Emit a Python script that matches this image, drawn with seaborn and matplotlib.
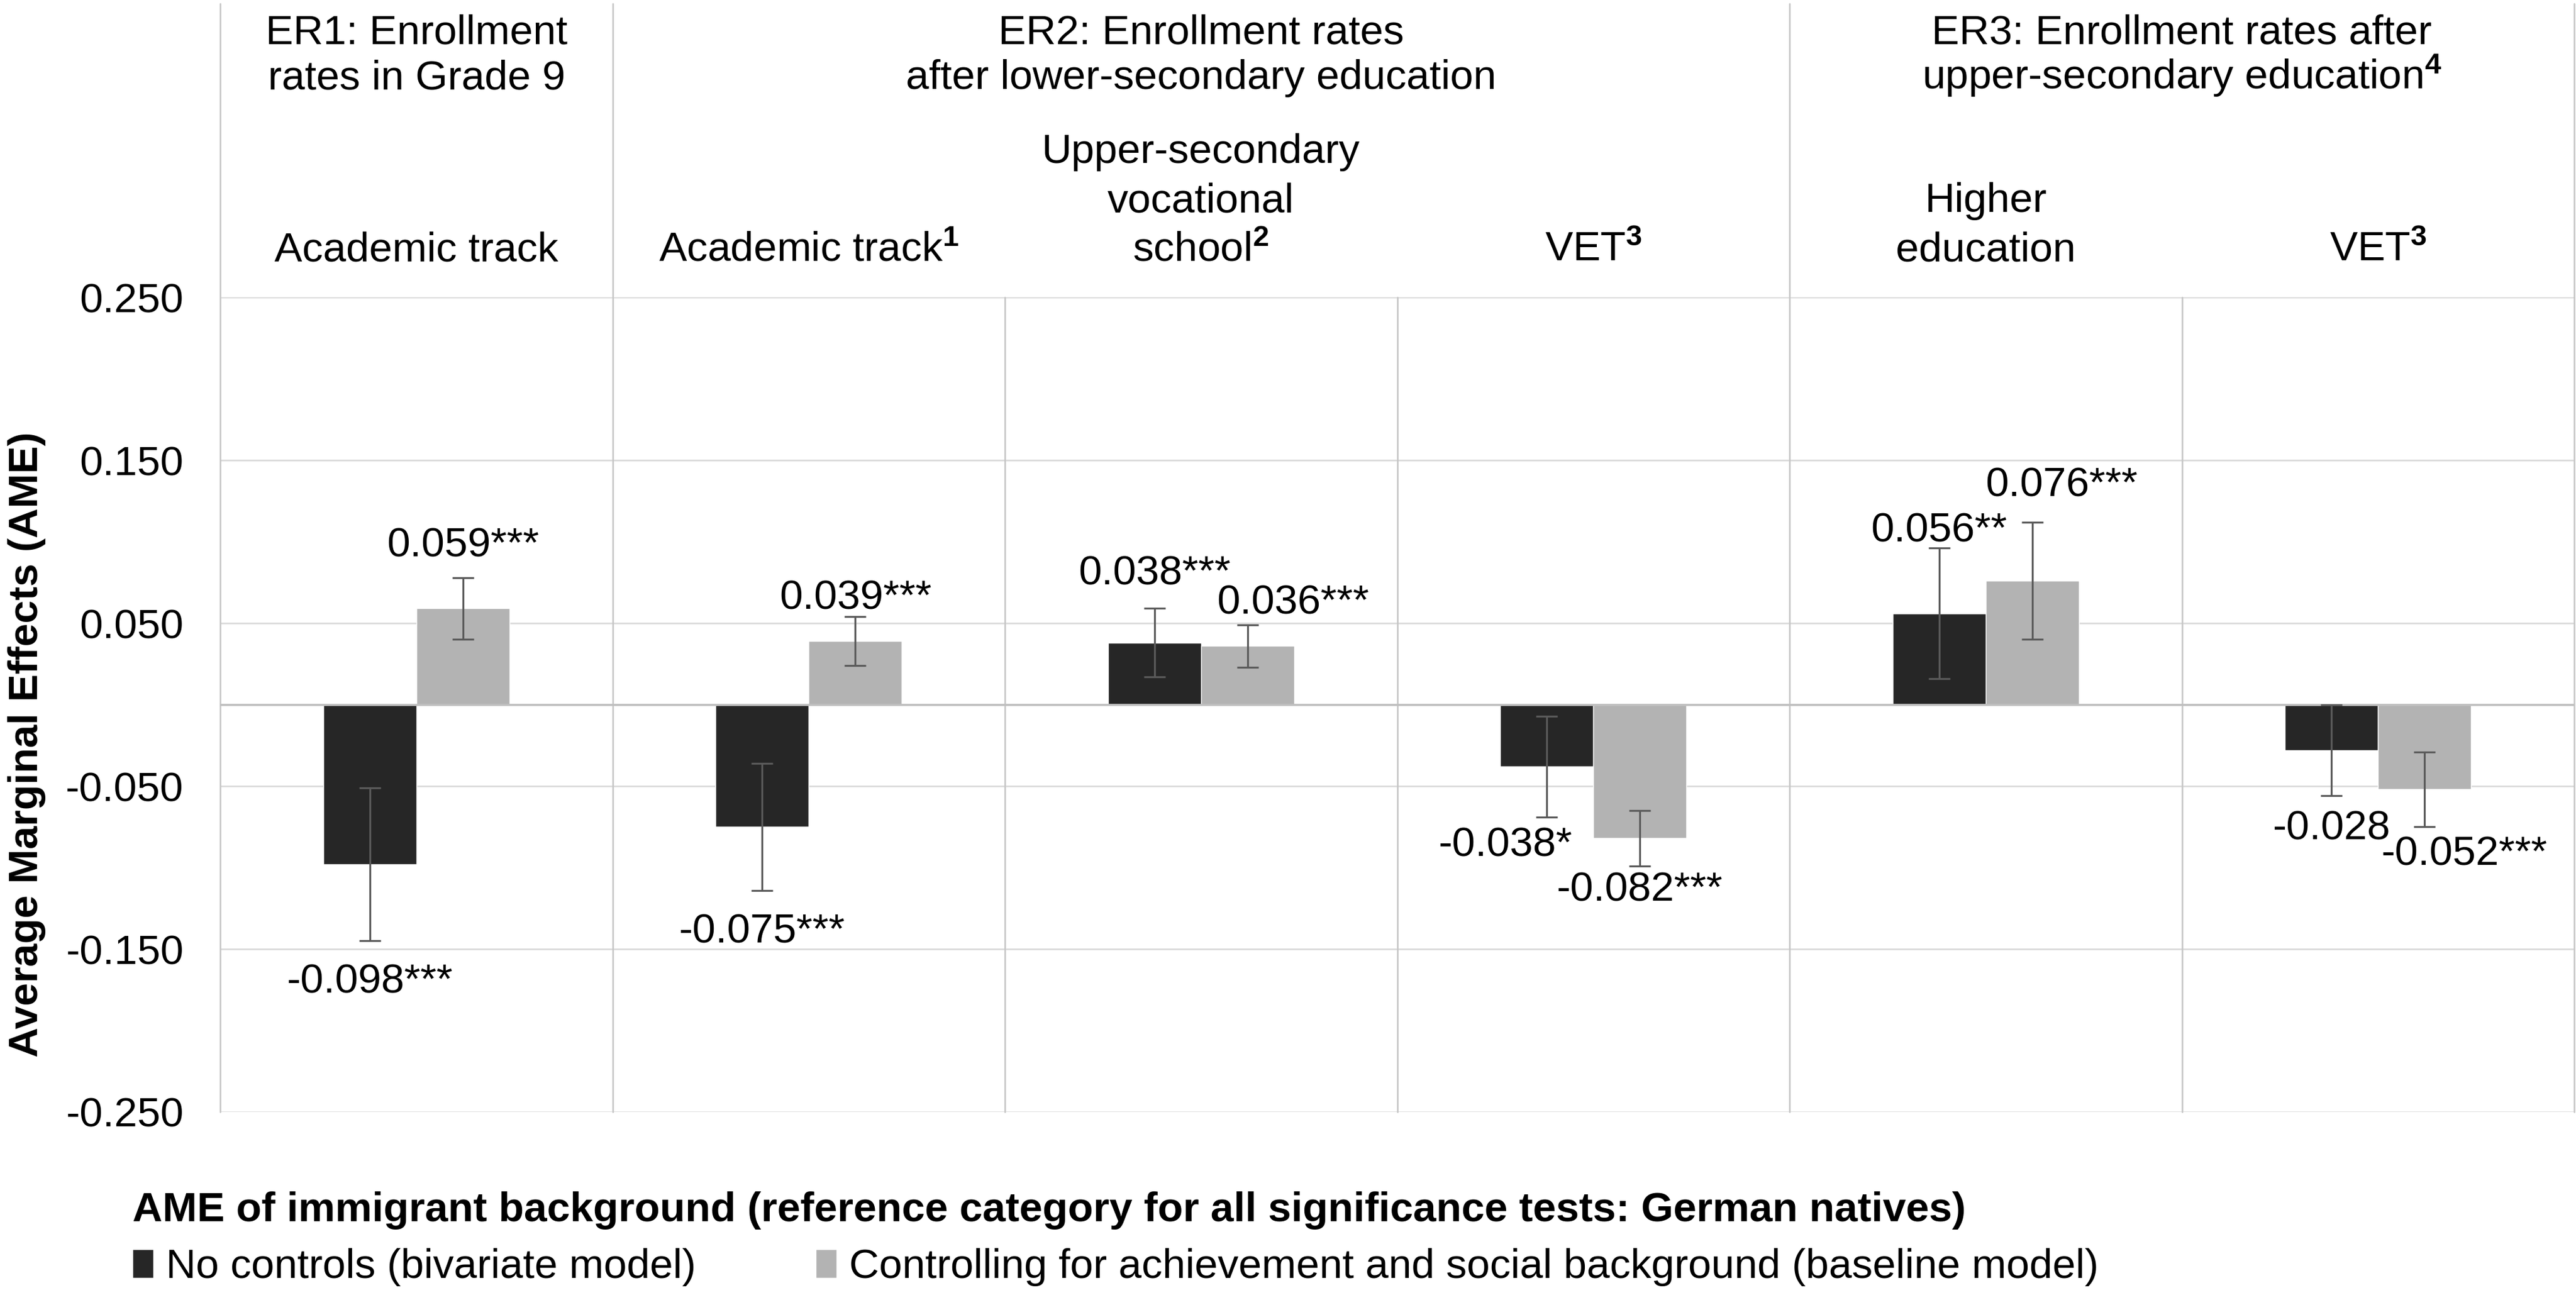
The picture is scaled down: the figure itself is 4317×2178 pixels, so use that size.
import numpy as np
import pandas as pd
import matplotlib
matplotlib.use("Agg")
import matplotlib.pyplot as plt
import matplotlib.transforms as mtransforms
import seaborn as sns

# ---------------- data ----------------
category_ids = ["ER1 Academic track", "ER2 Academic track", "ER2 Upper-secondary vocational school",
                "ER2 VET", "ER3 Higher education", "ER3 VET"]
sub_labels = [["Academic track"], [r"Academic track$^{\mathbf{1}}$"],
              ["Upper-secondary", "vocational", r"school$^{\mathbf{2}}$"],
              [r"VET$^{\mathbf{3}}$"], ["Higher", "education"], [r"VET$^{\mathbf{3}}$"]]
group_titles = [["ER1: Enrollment", "rates in Grade 9"],
                ["ER2: Enrollment rates", "after lower-secondary education"],
                ["ER3: Enrollment rates after", r"upper-secondary education$^{\mathbf{4}}$"]]
group_first = [0, 1, 4]
group_last = [0, 3, 5]

series = ["No controls (bivariate model)",
          "Controlling for achievement and social background (baseline model)"]
ame_no_controls = [-0.098, -0.075, 0.038, -0.038, 0.056, -0.028]
ame_baseline = [0.059, 0.039, 0.036, -0.082, 0.076, -0.052]
ci_low_no_controls = [-0.145, -0.114, 0.017, -0.069, 0.016, -0.056]
ci_high_no_controls = [-0.051, -0.036, 0.059, -0.007, 0.096, 0.000]
ci_low_baseline = [0.040, 0.024, 0.023, -0.099, 0.040, -0.075]
ci_high_baseline = [0.078, 0.054, 0.049, -0.065, 0.112, -0.029]
sig_no_controls = ["***", "***", "***", "*", "**", ""]
sig_baseline = ["***", "***", "***", "***", "***", "***"]
yticks = [0.25, 0.15, 0.05, -0.05, -0.15, -0.25]

legend_title = "AME of immigrant background (reference category for all significance tests: German natives)"
ylabel = "Average Marginal Effects (AME)"

# ---------------- style ----------------
sns.set_style("white")
plt.rcParams["font.family"] = ["Liberation Sans", "DejaVu Sans"]
plt.rcParams["text.color"] = "black"
plt.rcParams["axes.labelcolor"] = "black"
plt.rcParams["ytick.color"] = "black"
plt.rcParams["mathtext.fontset"] = "custom"
plt.rcParams["mathtext.rm"] = "Liberation Sans"
plt.rcParams["mathtext.bf"] = "Liberation Sans:bold"
plt.rcParams["mathtext.it"] = "Liberation Sans:italic"
FS = 50
W, H = 4317, 2178
colors = ["#262626", "#b3b3b3"]
grid_c = "#d9d9d9"
sep_c = "#c6c6c6"

df = pd.DataFrame({
    "category": category_ids * 2,
    "series": [series[0]] * 6 + [series[1]] * 6,
    "value": ame_no_controls + ame_baseline,
})

fig = plt.figure(figsize=(W / 100, H / 100), dpi=100)
ax_left, ax_right = 369 / W, 4314 / W
ax_top_px, ax_bot_px = 498, 1863
ax = fig.add_axes([ax_left, 1 - ax_bot_px / H, ax_right - ax_left, (ax_bot_px - ax_top_px) / H])

sns.barplot(data=df, x="category", y="value", hue="series", hue_order=series,
            order=category_ids, palette=colors, width=0.475, errorbar=None,
            saturation=1, ax=ax, zorder=3)

ax.set_xlim(-0.5, 5.5)
ax.set_ylim(-0.25, 0.25)
for s in ax.spines.values():
    s.set_visible(False)
ax.set_xticks([])
ax.set_xlabel("")
ax.set_ylabel("")
ax.set_yticks(yticks)
ax.set_yticklabels([f"{t:.3f}" for t in yticks], fontsize=FS, color="black")
ax.tick_params(axis="y", length=0, pad=44)

# gridlines and zero line
for t in yticks:
    ax.axhline(t, color=grid_c, lw=1.9, zorder=1)
ax.axhline(0, color="#bfbfbf", lw=2.6, zorder=4)

# separators
ax_h_px = ax_bot_px - ax_top_px
top_ext = 1 + (ax_top_px - 6) / ax_h_px
trans = mtransforms.blended_transform_factory(ax.transData, ax.transAxes)
for gx in [-0.5, 0.5, 3.5, 5.5]:
    ax.plot([gx, gx], [0, top_ext], color=sep_c, lw=1.9, transform=trans, clip_on=False, zorder=2)
for ix in [1.5, 2.5, 4.5]:
    ax.plot([ix, ix], [0, 1], color=sep_c, lw=1.9, transform=trans, clip_on=False, zorder=2)

def px_to_ax(py):
    return 1 + (ax_top_px - py) / ax_h_px

# header texts
for g, lines in enumerate(group_titles):
    cx = (group_first[g] + group_last[g]) / 2
    for i, (line, base) in enumerate(zip(lines, [73, 149])):
        ax.text(cx, px_to_ax(base), line, transform=trans, ha="center", va="baseline", fontsize=FS)
for c, lines in enumerate(sub_labels):
    n = len(lines)
    for i, line in enumerate(lines):
        base = 437 - (n - 1 - i) * 82
        ax.text(c, px_to_ax(base), line, transform=trans, ha="center", va="baseline", fontsize=FS)

# error bars + labels
bar_containers = list(ax.containers)
values = [ame_no_controls, ame_baseline]
lows = [ci_low_no_controls, ci_low_baseline]
highs = [ci_high_no_controls, ci_high_baseline]
sigs = [sig_no_controls, sig_baseline]
# label offsets (points): (dx, dy to text centre from CI end)
label_offsets = [
    [(0, -45), (0, -45), (0, 47), (-50, -29), (0, 26), (0, -35)],
    [(0, 43), (0, 27), (55, 31), (0, -24), (35, 49), (48, -28)],
]
for s_i, cont in enumerate(bar_containers):
    xs = [p.get_x() + p.get_width() / 2 for p in cont.patches]
    v = np.array(values[s_i])
    lo = np.array(lows[s_i])
    hi = np.array(highs[s_i])
    ax.errorbar(xs, v, yerr=[v - lo, hi - v], fmt="none", ecolor="#5a5a5a",
                elinewidth=2.3, capsize=13, capthick=2.3, zorder=5)
    for k, x in enumerate(xs):
        end = hi[k] if v[k] > 0 else lo[k]
        dx, dy = label_offsets[s_i][k]
        ax.annotate(f"{v[k]:.3f}{sigs[s_i][k]}", (x, end), xytext=(dx, dy - 18),
                    textcoords="offset points", ha="center", va="baseline",
                    fontsize=FS, zorder=6, annotation_clip=False)

# y label
fig.text(45 / W, 1 - 1247 / H, ylabel, rotation=90, ha="center", va="center",
         fontsize=FS, fontweight="bold")

# legend
handles, labels = ax.get_legend_handles_labels()
if ax.get_legend() is not None:
    ax.get_legend().remove()
fig.legend(handles[:2], series, ncol=2, title=legend_title, loc="upper left",
           bbox_to_anchor=(222 / W, 1 - 1996 / H), frameon=False, fontsize=FS,
           title_fontproperties={"weight": "bold", "size": FS}, alignment="left",
           handlelength=0.5, handleheight=0.7, handletextpad=0.3, columnspacing=2.9,
           borderpad=0, borderaxespad=0, labelspacing=0.45)

fig.savefig("out.png", dpi=100, facecolor="white")
